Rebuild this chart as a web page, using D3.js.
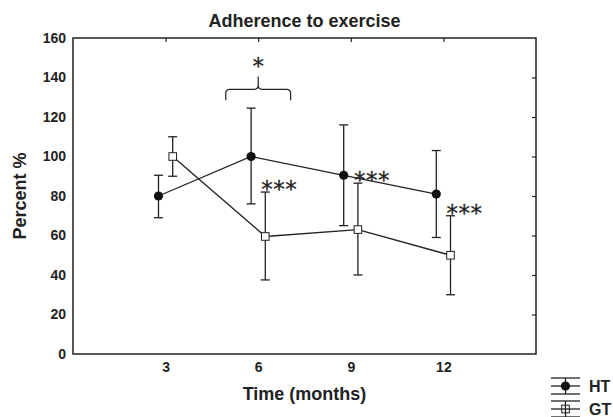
<!DOCTYPE html>
<html>
<head>
<meta charset="utf-8">
<script src="https://cdn.jsdelivr.net/npm/d3@7"></script>
<style>
  body { margin: 0; background: #fff; }
  text { font-family: "Liberation Sans", Arial, Helvetica, sans-serif; fill: #222; }
  .bold { font-weight: bold; }
  .stars { font-family: "DejaVu Sans", sans-serif; font-weight: normal; stroke: #222; stroke-width: 0.3px; }
</style>
</head>
<body>
<div id="chart"></div>
<script>
// data
const months = [3, 6, 9, 12];
const xTicks = [3, 6, 9, 12];
const yTicks = [0, 20, 40, 60, 80, 100, 120, 140, 160];

const htMean = [80, 100, 90.5, 81];
const htUpper = [90.5, 124.5, 116, 103];
const htLower = [69, 76, 65, 59];

const gtMean = [100, 59.5, 63, 50];
const gtUpper = [110, 82, 86.5, 70];
const gtLower = [90, 37.5, 40, 30];

// significance marks
const starMonths = [6, 9, 12];
const braceMonths = [4.95, 7.05];
const braceValues = [128.5, 134, 140.5];  // ends, bar, tip
const braceStarValue = 149;

const width = 613, height = 417;
const margin = { left: 73, right: 77, top: 38, bottom: 63 };
const offset = 0.23; // groups are nudged apart in x

const svg = d3.select("#chart").append("svg")
    .attr("width", width)
    .attr("height", height);

const x = d3.scaleLinear().domain([0, 15]).range([margin.left, width - margin.right]);
const y = d3.scaleLinear().domain([0, 160]).range([height - margin.bottom, margin.top]);

const ink = "#222";

// frame
svg.append("rect")
    .attr("x", x(0)).attr("y", y(160))
    .attr("width", x(15) - x(0)).attr("height", y(0) - y(160))
    .attr("fill", "none").attr("stroke", ink).attr("stroke-width", 1.5);

// inner ticks on top and right only
svg.append("g")
    .attr("transform", `translate(0,${y(160)})`)
    .call(d3.axisTop(x).tickValues(xTicks).tickSize(-4).tickFormat(""))
    .call(g => g.select(".domain").remove())
    .call(g => g.selectAll("line").attr("stroke", ink).attr("stroke-width", 1.2));

svg.append("g")
    .attr("transform", `translate(${x(15)},0)`)
    .call(d3.axisRight(y).tickValues(yTicks.slice(1, -1)).tickSize(-4).tickFormat(""))
    .call(g => g.select(".domain").remove())
    .call(g => g.selectAll("line").attr("stroke", ink).attr("stroke-width", 1.2));

// tick labels
svg.append("g")
    .attr("transform", `translate(${x(0)},0)`)
    .call(d3.axisLeft(y).tickValues(yTicks).tickSize(0).tickPadding(7))
    .call(g => g.select(".domain").remove())
    .call(g => g.selectAll("text").attr("class", "bold").style("font-size", "14px")
        .attr("fill", ink).style("font-family", null));

svg.append("g")
    .attr("transform", `translate(0,${y(0)})`)
    .call(d3.axisBottom(x).tickValues(xTicks).tickSize(0).tickPadding(8))
    .call(g => g.select(".domain").remove())
    .call(g => g.selectAll("text").attr("class", "bold").style("font-size", "14px")
        .attr("fill", ink).style("font-family", null));

// titles
svg.append("text")
    .attr("class", "bold")
    .attr("x", (x(0) + x(15)) / 2).attr("y", 27)
    .attr("text-anchor", "middle")
    .style("font-size", "18px")
    .text("Adherence to exercise");

svg.append("text")
    .attr("class", "bold")
    .attr("x", (x(0) + x(15)) / 2).attr("y", 400)
    .attr("text-anchor", "middle")
    .style("font-size", "18px")
    .text("Time (months)");

svg.append("text")
    .attr("class", "bold")
    .attr("transform", `translate(26,${(y(0) + y(160)) / 2}) rotate(-90)`)
    .attr("text-anchor", "middle")
    .style("font-size", "18px")
    .text("Percent %");

// one group = line + error bars + markers
function drawGroup(mean, upper, lower, dx, marker) {
    const pts = months.map((m, i) => ({ m: m + dx, v: mean[i], hi: upper[i], lo: lower[i] }));
    const g = svg.append("g");

    g.append("path")
        .datum(pts)
        .attr("fill", "none")
        .attr("stroke", ink)
        .attr("stroke-width", 1.3)
        .attr("d", d3.line().x(d => x(d.m)).y(d => y(d.v)));

    const bars = g.selectAll(".bar").data(pts).enter().append("g")
        .attr("stroke", ink).attr("stroke-width", 1.3);
    bars.append("line")
        .attr("x1", d => x(d.m)).attr("x2", d => x(d.m))
        .attr("y1", d => y(d.hi)).attr("y2", d => y(d.lo));
    bars.append("line")
        .attr("x1", d => x(d.m) - 4.5).attr("x2", d => x(d.m) + 4.5)
        .attr("y1", d => y(d.hi)).attr("y2", d => y(d.hi));
    bars.append("line")
        .attr("x1", d => x(d.m) - 4.5).attr("x2", d => x(d.m) + 4.5)
        .attr("y1", d => y(d.lo)).attr("y2", d => y(d.lo));

    if (marker === "circle") {
        g.selectAll(".pt").data(pts).enter().append("circle")
            .attr("cx", d => x(d.m)).attr("cy", d => y(d.v))
            .attr("r", 4.6).attr("fill", "#111");
    } else {
        g.selectAll(".pt").data(pts).enter().append("rect")
            .attr("x", d => x(d.m) - 3.8).attr("y", d => y(d.v) - 3.8)
            .attr("width", 7.6).attr("height", 7.6)
            .attr("fill", "#fff").attr("stroke", ink).attr("stroke-width", 1);
    }
}

drawGroup(htMean, htUpper, htLower, -offset, "circle");
drawGroup(gtMean, gtUpper, gtLower, offset, "square");

// *** next to the GT upper caps
svg.selectAll(".stars")
    .data(starMonths)
    .enter().append("text")
    .attr("class", "stars")
    .attr("x", m => x(m + offset) - 4)
    .attr("y", m => y(gtUpper[months.indexOf(m)] + 3.5) + 12)
    .style("font-size", "23px")
    .style("letter-spacing", "0.5px")
    .text("***");

// brace over month 6
const bx0 = x(braceMonths[0]), bx1 = x(braceMonths[1]), bxm = x(6);
const yEnd = y(braceValues[0]), yBar = y(braceValues[1]), yTip = y(braceValues[2]);
const r = 4;
svg.append("path")
    .attr("fill", "none").attr("stroke", ink).attr("stroke-width", 1.2)
    .attr("d", `M${bx0},${yEnd} L${bx0},${yBar + r} Q${bx0},${yBar} ${bx0 + r},${yBar}
        L${bxm - r},${yBar} Q${bxm},${yBar} ${bxm},${yBar - r} L${bxm},${yTip}
        M${bxm},${yBar - r} Q${bxm},${yBar} ${bxm + r},${yBar}
        L${bx1 - r},${yBar} Q${bx1},${yBar} ${bx1},${yBar + r} L${bx1},${yEnd}`);

svg.append("text")
    .attr("class", "stars")
    .attr("x", bxm).attr("y", y(braceStarValue) + 14)
    .attr("text-anchor", "middle")
    .style("font-size", "23px")
    .text("*");

// legend
const legend = [
    { name: "HT", marker: "circle", cy: 386 },
    { name: "GT", marker: "square", cy: 409 }
];
const lx0 = 551, lx1 = 580, lxm = (lx0 + lx1) / 2;
legend.forEach(d => {
    const g = svg.append("g").attr("stroke", ink).attr("stroke-width", 1.3);
    [d.cy - 8, d.cy, d.cy + 8].forEach(yy => {
        g.append("line").attr("x1", lx0).attr("x2", lx1).attr("y1", yy).attr("y2", yy);
    });
    g.append("line").attr("x1", lxm).attr("x2", lxm).attr("y1", d.cy - 8).attr("y2", d.cy + 8);
    if (d.marker === "circle") {
        g.append("circle").attr("cx", lxm).attr("cy", d.cy).attr("r", 4.6)
            .attr("fill", "#111").attr("stroke", "none");
    } else {
        g.append("rect").attr("x", lxm - 3.8).attr("y", d.cy - 3.8)
            .attr("width", 7.6).attr("height", 7.6)
            .attr("fill", "none").attr("stroke-width", 1);
    }
    svg.append("text")
        .attr("class", "bold")
        .attr("x", 589).attr("y", d.cy + 6)
        .style("font-size", "16px")
        .text(d.name);
});
</script>
</body>
</html>
